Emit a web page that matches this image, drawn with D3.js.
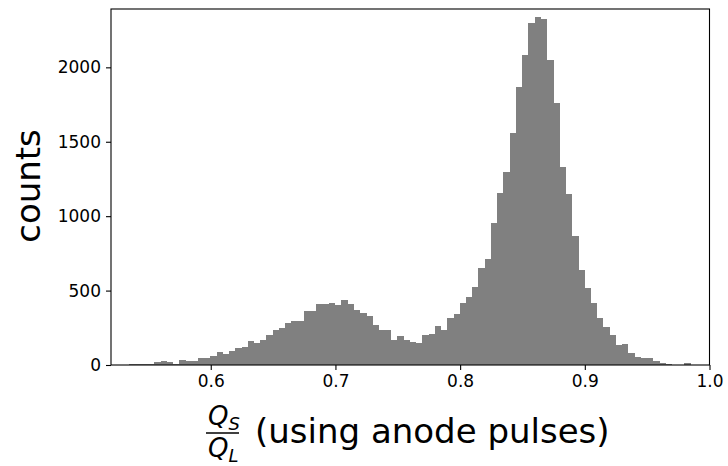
<!DOCTYPE html>
<html><head><meta charset="utf-8">
<script src="https://cdn.jsdelivr.net/npm/d3@7"></script>
<style>
html,body{margin:0;padding:0;background:#fff;}
svg{display:block;font-family:"DejaVu Sans",sans-serif;}
</style></head>
<body><svg id="chart" width="728" height="466"></svg>
<script>
// Histogram data (bin edges in Q_S/Q_L units)
const binStart = 0.5347;
const binWidth = 0.005;
const counts = [7,8,8,9,18,24,17,8,35,28,29,50,50,63,90,76,96,116,122,162,
  149,169,204,236,250,283,297,297,364,364,410,410,417,403,437,410,370,347,330,270,
  235,235,168,195,168,155,148,202,208,262,235,316,343,417,457,525,654,714,956,1158,
  1299,1561,1870,2086,2300,2341,2327,2052,1763,1333,1151,869,641,519,418,317,257,203,136,142,
  82,55,47,47,27,13,7,3,3,13,2,1];
const xDomain = [0.52, 1.0];
const yDomain = [0, 2392];
const xTicks = [0.6, 0.7, 0.8, 0.9, 1.0];
const yTicks = [0, 500, 1000, 1500, 2000];

const bins = counts.map((c, i) => ({x0: binStart + i * binWidth, x1: binStart + (i + 1) * binWidth, c}));

const svg = d3.select("#chart");
const m = {left: 111, right: 709.5, top: 9, bottom: 365};
const x = d3.scaleLinear().domain(xDomain).range([m.left, m.right]);
const y = d3.scaleLinear().domain(yDomain).range([m.bottom, m.top]);

svg.append("defs").append("clipPath").attr("id", "clip")
  .append("rect").attr("x", m.left).attr("y", m.top)
  .attr("width", m.right - m.left).attr("height", m.bottom - m.top);

svg.append("g").attr("clip-path", "url(#clip)")
  .selectAll("rect").data(bins).join("rect")
  .attr("x", d => x(d.x0))
  .attr("width", d => x(d.x1) - x(d.x0) + 0.3)
  .attr("y", d => y(d.c))
  .attr("height", d => y(0) - y(d.c))
  .attr("fill", "#808080")
  .attr("shape-rendering", "crispEdges");

const xAxis = svg.append("g").attr("transform", `translate(0,${m.bottom})`)
  .call(d3.axisBottom(x).tickValues(xTicks).tickFormat(d3.format(".1f")).tickSize(5).tickPadding(5).tickSizeOuter(0));
const yAxis = svg.append("g").attr("transform", `translate(${m.left},0)`)
  .call(d3.axisLeft(y).tickValues(yTicks).tickFormat(d3.format("d")).tickSize(5).tickPadding(5).tickSizeOuter(0));
[xAxis, yAxis].forEach(g => {
  g.select(".domain").remove();
  g.selectAll("line").attr("stroke", "#000").attr("stroke-width", 1.1);
  g.selectAll("text").attr("font-size", 17).attr("fill", "#000").attr("font-family", "DejaVu Sans");
});

// frame
svg.append("rect").attr("x", m.left).attr("y", m.top)
  .attr("width", m.right - m.left).attr("height", m.bottom - m.top)
  .attr("fill", "none").attr("stroke", "#000").attr("stroke-width", 1.1);

// y label
svg.append("text").attr("transform", "translate(40,186) rotate(-90)")
  .attr("text-anchor", "middle").attr("font-size", 34).attr("fill", "#000")
  .text("counts");

// x label: fraction Q_S / Q_L + text
const lab = svg.append("g");
const num = lab.append("text").attr("x", 208).attr("y", 425).attr("font-size", 26).attr("fill", "#000");
num.append("tspan").attr("font-style", "italic").text("Q");
num.append("tspan").attr("font-style", "italic").attr("font-size", 18).attr("dy", 5).text("S");
lab.append("line").attr("x1", 206).attr("x2", 239).attr("y1", 433).attr("y2", 433)
  .attr("stroke", "#000").attr("stroke-width", 1.6);
const den = lab.append("text").attr("x", 208).attr("y", 457).attr("font-size", 26).attr("fill", "#000");
den.append("tspan").attr("font-style", "italic").text("Q");
den.append("tspan").attr("font-style", "italic").attr("font-size", 18).attr("dy", 5).text("L");
lab.append("text").attr("x", 255).attr("y", 443).attr("font-size", 34).attr("fill", "#000")
  .text("(using anode pulses)");
</script></body></html>
